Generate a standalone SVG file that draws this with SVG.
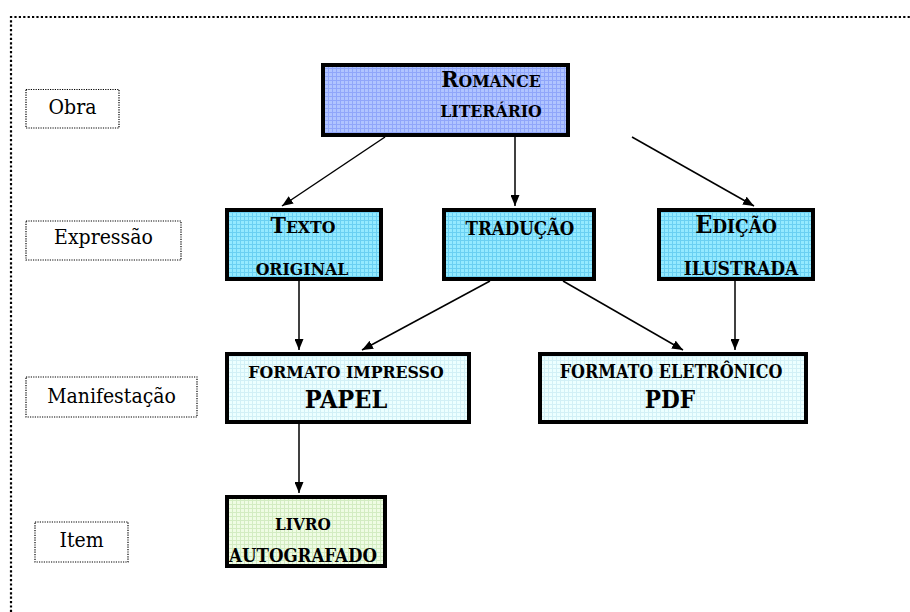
<svg xmlns="http://www.w3.org/2000/svg" width="910" height="612" viewBox="0 0 910 612">
<defs>
<pattern id="gBlue" width="4" height="4" patternUnits="userSpaceOnUse"><rect width="4" height="4" fill="#b0c4ff"/><path d="M0,0.5H4M0.5,0V4" stroke="#90a6fa" stroke-width="1"/></pattern>
<pattern id="gCyan" width="4" height="4" patternUnits="userSpaceOnUse"><rect width="4" height="4" fill="#94eaff"/><path d="M0,0.5H4M0.5,0V4" stroke="#6ad0f2" stroke-width="1"/></pattern>
<pattern id="gPale" width="4" height="4" patternUnits="userSpaceOnUse"><rect width="4" height="4" fill="#ecffff"/><path d="M0,0.5H4M0.5,0V4" stroke="#d2f0f6" stroke-width="1"/></pattern>
<pattern id="gGreen" width="4" height="4" patternUnits="userSpaceOnUse"><rect width="4" height="4" fill="#effce4"/><path d="M0,0.5H4M0.5,0V4" stroke="#d3ecc2" stroke-width="1"/></pattern>
<marker id="ah" markerWidth="11" markerHeight="9" refX="11" refY="4.5" orient="auto" markerUnits="userSpaceOnUse"><path d="M0,0L11,4.5L0,9Z" fill="#000"/></marker>
</defs>
<style>
.box{stroke:#000;stroke-width:4}
.lbl{fill:#fff;stroke:#000;stroke-width:1.2;stroke-dasharray:1.2 1.2}
text{fill:#000;text-anchor:middle;font-family:'DejaVu Serif Condensed','DejaVu Serif',serif}
.lt{font-size:21px}
.bt{font-weight:bold}
.sc{font-size:17.5px}
.big{font-size:23px}
.con{stroke:#000;stroke-width:1.5;fill:none;marker-end:url(#ah)}
</style>
<rect width="910" height="612" fill="#fff"/>
<path d="M11,612V17H910" fill="none" stroke="#000" stroke-width="2.2" stroke-dasharray="2.2 2.2"/>

<g id="label-obra"><rect class="lbl" x="26" y="89.5" width="93" height="38.5"/><text class="lt" x="72.5" y="114">Obra</text></g>
<g id="label-expressao"><rect class="lbl" x="26" y="221" width="155" height="39"/><text class="lt" x="103.5" y="244">Expressão</text></g>
<g id="label-manifestacao"><rect class="lbl" x="26" y="377" width="171" height="40"/><text class="lt" x="111.5" y="403">Manifestação</text></g>
<g id="label-item"><rect class="lbl" x="35" y="522" width="93" height="40"/><text class="lt" x="81.5" y="547">Item</text></g>

<g id="connectors">
<line class="con" x1="385" y1="137" x2="282" y2="206"/>
<line class="con" x1="515" y1="137" x2="515" y2="206"/>
<line class="con" x1="632" y1="137" x2="754" y2="206"/>
<line class="con" x1="299" y1="281" x2="299" y2="350"/>
<line class="con" x1="490" y1="281" x2="362" y2="350"/>
<line class="con" x1="563" y1="281" x2="683" y2="350"/>
<line class="con" x1="735" y1="281" x2="735" y2="350"/>
<line class="con" x1="299" y1="423" x2="299" y2="493"/>
</g>

<g id="romance"><rect class="box" x="323" y="65" width="245" height="70" fill="url(#gBlue)"/>
<text class="bt" x="491" y="87"><tspan class="big">R</tspan><tspan class="sc">OMANCE</tspan></text>
<text class="bt sc" x="491" y="117">LITERÁRIO</text></g>

<g id="texto"><rect class="box" x="227" y="210" width="154" height="69" fill="url(#gCyan)"/>
<text class="bt" x="303" y="233"><tspan class="big">T</tspan><tspan class="sc">EXTO</tspan></text>
<text class="bt sc" x="302" y="275">ORIGINAL</text></g>

<g id="traducao"><rect class="box" x="444" y="210" width="150" height="69" fill="url(#gCyan)"/>
<text class="bt" x="520" y="235" font-size="18.5">TRADUÇÃO</text></g>

<g id="edicao"><rect class="box" x="659" y="210" width="154" height="69" fill="url(#gCyan)"/>
<text class="bt" x="736" y="233"><tspan font-size="25">E</tspan><tspan font-size="19">DIÇÃO</tspan></text>
<text class="bt" x="741" y="275" font-size="19">ILUSTRADA</text></g>

<g id="impresso"><rect class="box" x="227" y="354" width="242" height="68" fill="url(#gPale)"/>
<text class="bt" x="346" y="378" font-size="17.5">FORMATO IMPRESSO</text>
<text class="bt" x="346" y="408" font-size="25">PAPEL</text></g>

<g id="eletronico"><rect class="box" x="540" y="354" width="266" height="68" fill="url(#gPale)"/>
<text class="bt" x="671" y="378" font-size="17.8">FORMATO ELETRÔNICO</text>
<text class="bt" x="670" y="408" font-size="24">PDF</text></g>

<g id="livro"><rect class="box" x="227" y="497" width="158" height="69" fill="url(#gGreen)"/>
<text class="bt" x="303" y="530" font-size="17">LIVRO</text>
<text class="bt" x="303" y="562" font-size="18.5">AUTOGRAFADO</text></g>
</svg>
